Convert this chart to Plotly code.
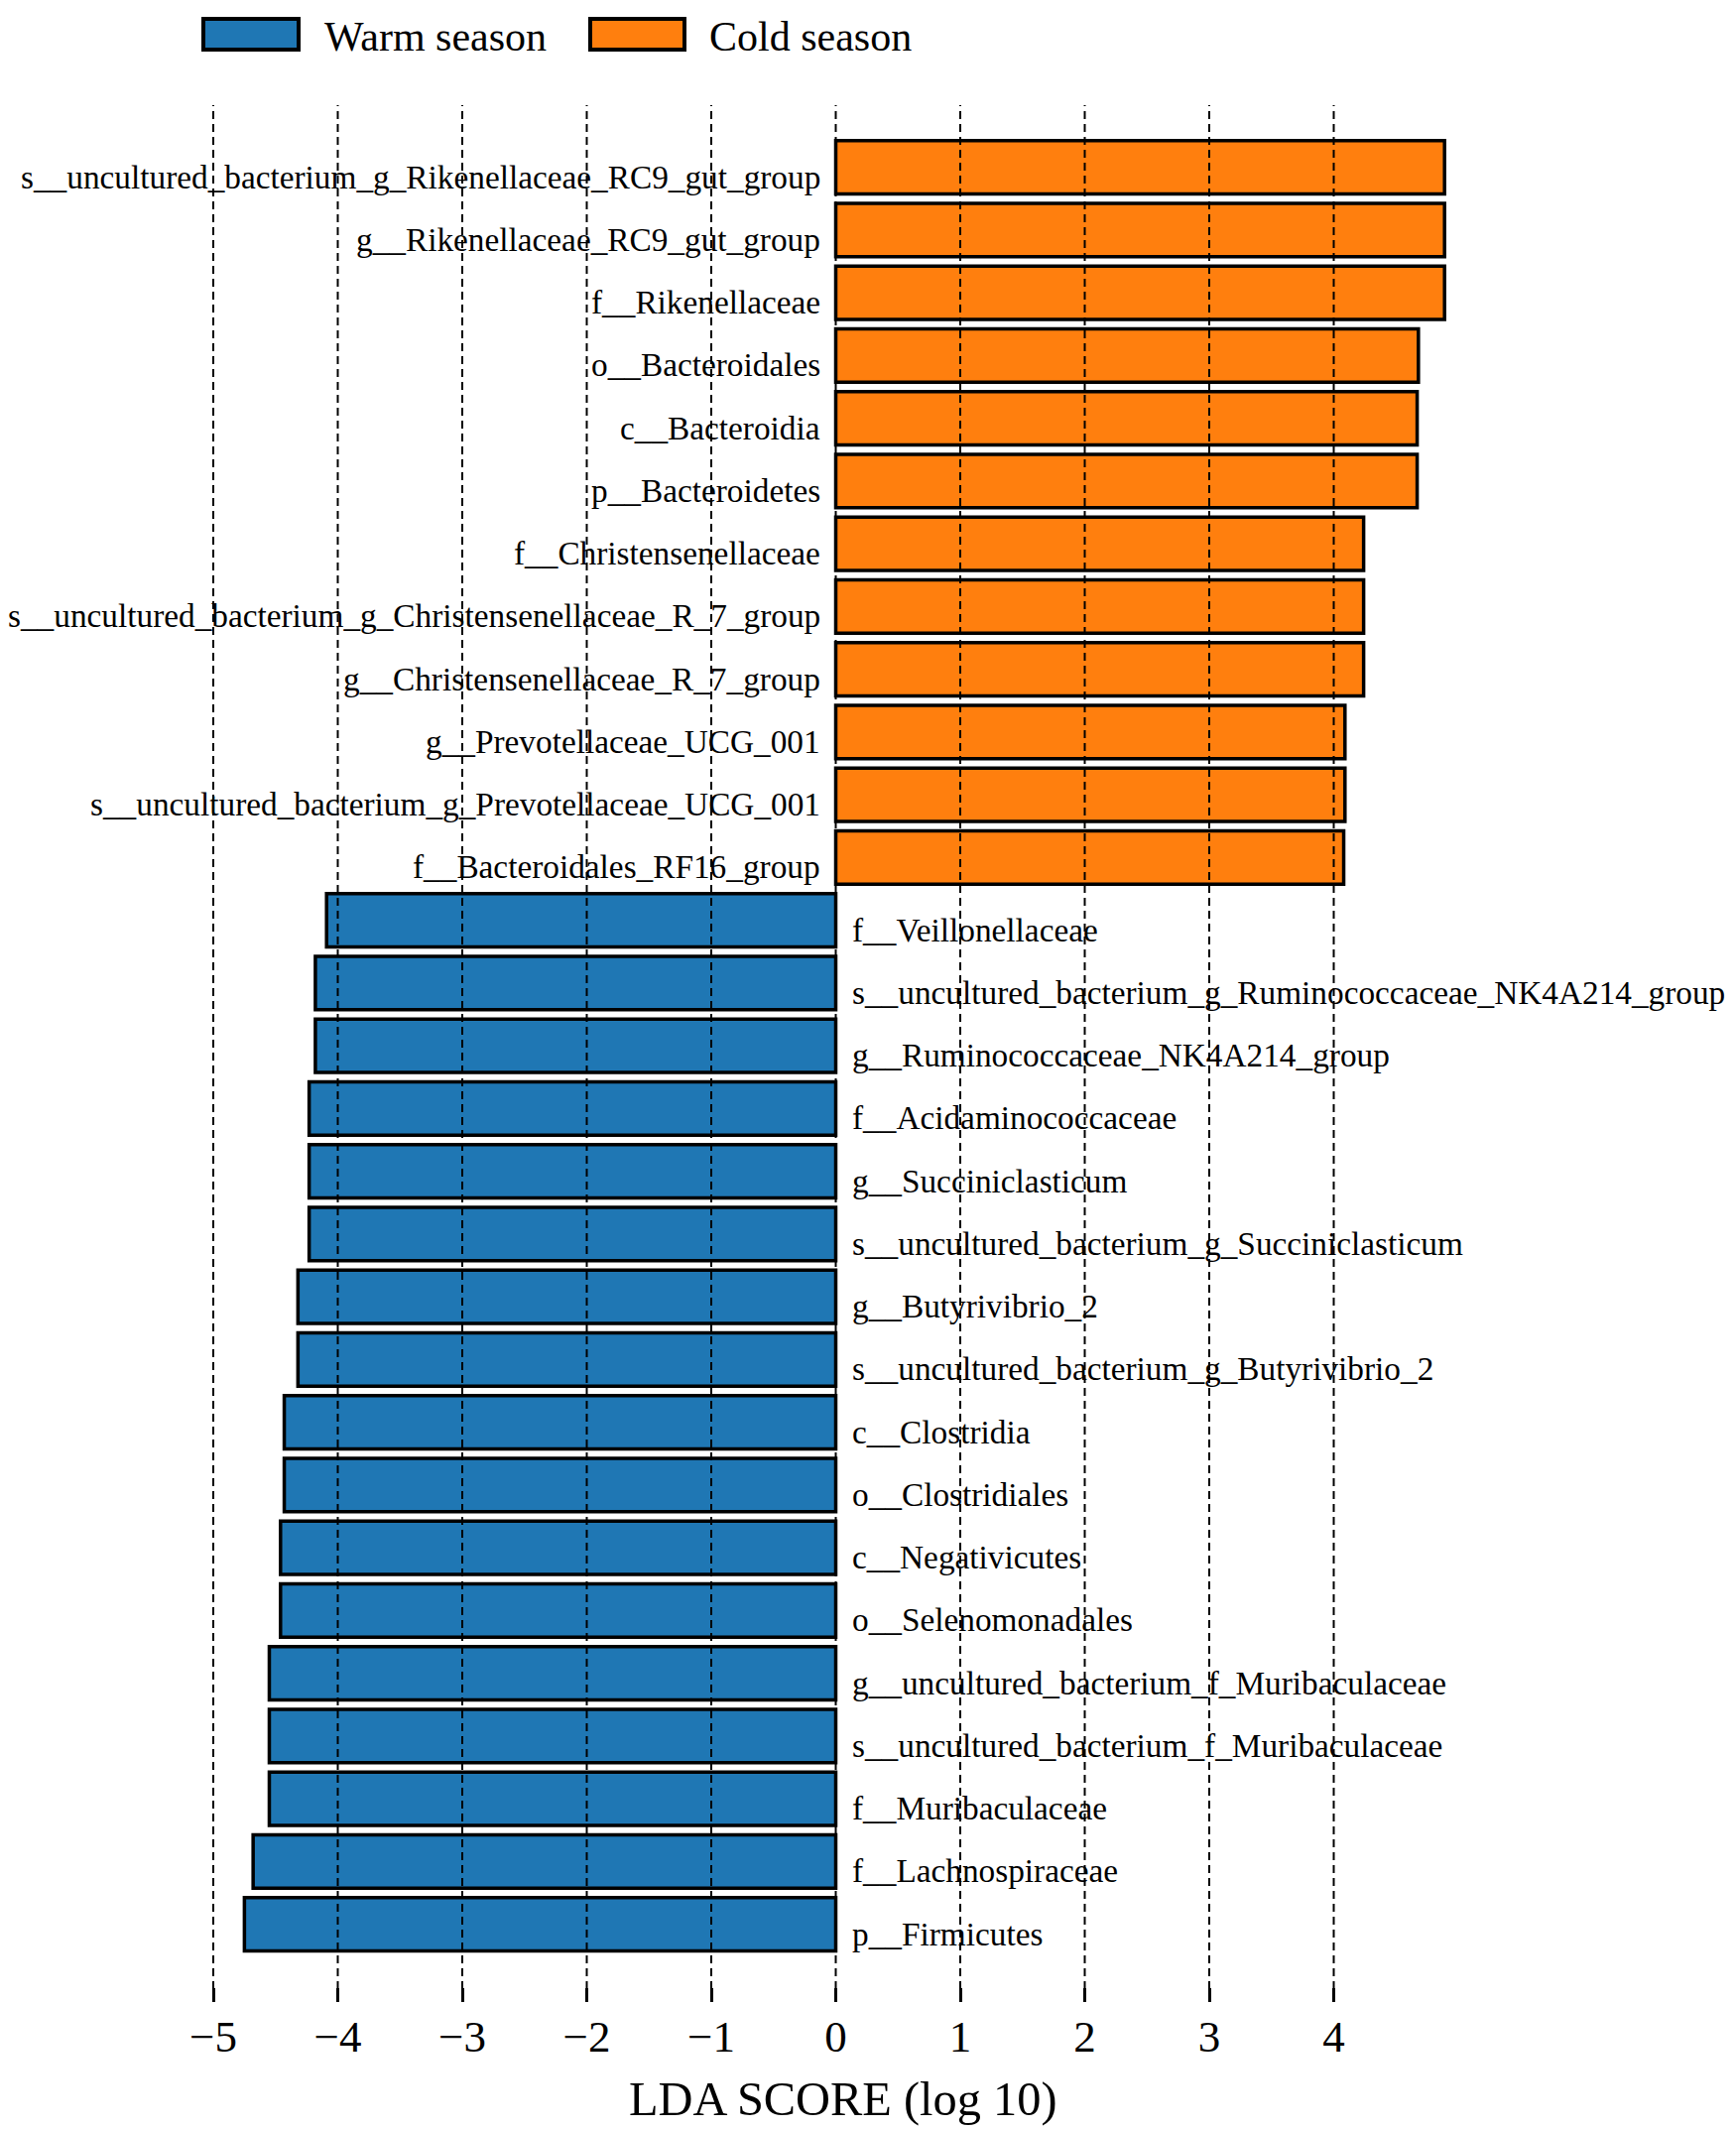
import plotly.graph_objects as go

# ---- data (top to bottom) ----
cold_taxa = [
    "s__uncultured_bacterium_g_Rikenellaceae_RC9_gut_group",
    "g__Rikenellaceae_RC9_gut_group",
    "f__Rikenellaceae",
    "o__Bacteroidales",
    "c__Bacteroidia",
    "p__Bacteroidetes",
    "f__Christensenellaceae",
    "s__uncultured_bacterium_g_Christensenellaceae_R_7_group",
    "g__Christensenellaceae_R_7_group",
    "g__Prevotellaceae_UCG_001",
    "s__uncultured_bacterium_g_Prevotellaceae_UCG_001",
    "f__Bacteroidales_RF16_group",
]
cold_lda = [4.89, 4.89, 4.89, 4.68, 4.67, 4.67, 4.24, 4.24, 4.24, 4.09, 4.09, 4.08]

warm_taxa = [
    "f__Veillonellaceae",
    "s__uncultured_bacterium_g_Ruminococcaceae_NK4A214_group",
    "g__Ruminococcaceae_NK4A214_group",
    "f__Acidaminococcaceae",
    "g__Succiniclasticum",
    "s__uncultured_bacterium_g_Succiniclasticum",
    "g__Butyrivibrio_2",
    "s__uncultured_bacterium_g_Butyrivibrio_2",
    "c__Clostridia",
    "o__Clostridiales",
    "c__Negativicutes",
    "o__Selenomonadales",
    "g__uncultured_bacterium_f_Muribaculaceae",
    "s__uncultured_bacterium_f_Muribaculaceae",
    "f__Muribaculaceae",
    "f__Lachnospiraceae",
    "p__Firmicutes",
]
warm_lda = [-4.09, -4.18, -4.18, -4.23, -4.23, -4.23, -4.32, -4.32, -4.43, -4.43,
            -4.46, -4.46, -4.55, -4.55, -4.55, -4.68, -4.75]

group_names = ["Warm season", "Cold season"]
group_colors = ["#1f77b4", "#ff7f0e"]
x_ticks = [-5, -4, -3, -2, -1, 0, 1, 2, 3, 4]
x_title = "LDA SCORE (log 10)"

FONT = "Liberation Serif, Times New Roman, serif"
OFF = 8  # page body margin
W, H = 1750 - OFF, 2147 - OFF
TOP, BOTTOM = 106 - OFF, 2018 - OFF

all_taxa = cold_taxa + warm_taxa
n = len(all_taxa)

fig = go.Figure()
fig.add_trace(go.Bar(
    y=cold_taxa, x=cold_lda, orientation="h", name=group_names[1],
    marker=dict(color=group_colors[1], line=dict(color="black", width=3.5)),
    width=0.85, showlegend=False,
))
fig.add_trace(go.Bar(
    y=warm_taxa, x=warm_lda, orientation="h", name=group_names[0],
    marker=dict(color=group_colors[0], line=dict(color="black", width=3.5)),
    width=0.85, showlegend=False,
))

LBL = 33.3
for t in cold_taxa:
    fig.add_annotation(x=0, y=t, text=t, xref="x", yref="y", showarrow=False,
                       xanchor="right", yanchor="middle", xshift=-14, yshift=-9.5,
                       font=dict(family=FONT, size=LBL, color="black"))
for t in warm_taxa:
    fig.add_annotation(x=0, y=t, text=t, xref="x", yref="y", showarrow=False,
                       xanchor="left", yanchor="middle", xshift=14, yshift=-9.5,
                       font=dict(family=FONT, size=LBL, color="black"))

# dashed vertical grid lines drawn above bars
for v in x_ticks:
    fig.add_shape(type="line", xref="x", yref="paper", x0=v, x1=v, y0=0, y1=1,
                  line=dict(color="black", width=2, dash="8px,5px"), layer="above")

ph = BOTTOM - TOP
def py(p):
    return (BOTTOM - (p - OFF)) / ph
def px(p):
    return (p - OFF) / W

leg = [(205, 301, 325), (595, 690, 713)]
for (x0, x1, tx), name, col in zip(leg, group_names, group_colors):
    fig.add_shape(type="rect", xref="paper", yref="paper",
                  x0=px(x0), x1=px(x1), y0=py(50), y1=py(19),
                  fillcolor=col, line=dict(color="black", width=4))
    fig.add_annotation(xref="paper", yref="paper", x=px(tx), y=py(37), text=name,
                       showarrow=False, xanchor="left", yanchor="middle",
                       font=dict(family=FONT, size=42, color="black"))

fig.add_annotation(xref="paper", yref="paper", x=px(850), y=py(2116), text=x_title,
                   showarrow=False, xanchor="center", yanchor="middle",
                   font=dict(family=FONT, size=48.4, color="black"))

x0px = 842.5 - OFF
upx = 125.5
fig.update_layout(
    width=W, height=H,
    margin=dict(l=0, r=0, t=TOP, b=H - BOTTOM, pad=0),
    plot_bgcolor="white", paper_bgcolor="white",
    barmode="overlay",
    xaxis=dict(range=[-x0px / upx, (W - x0px) / upx], tickvals=x_ticks,
               showgrid=False, zeroline=False, showline=False,
               ticks="inside", ticklen=14, tickwidth=3, tickcolor="black",
               ticklabelstandoff=4,
               tickfont=dict(family=FONT, size=45, color="black")),
    yaxis=dict(type="category", categoryorder="array", categoryarray=all_taxa,
               range=[n - 1 + 1.24, -0.99], showticklabels=False,
               showgrid=False, zeroline=False, showline=False, ticks=""),
    font=dict(family=FONT),
)

fig.write_html("out.html")
